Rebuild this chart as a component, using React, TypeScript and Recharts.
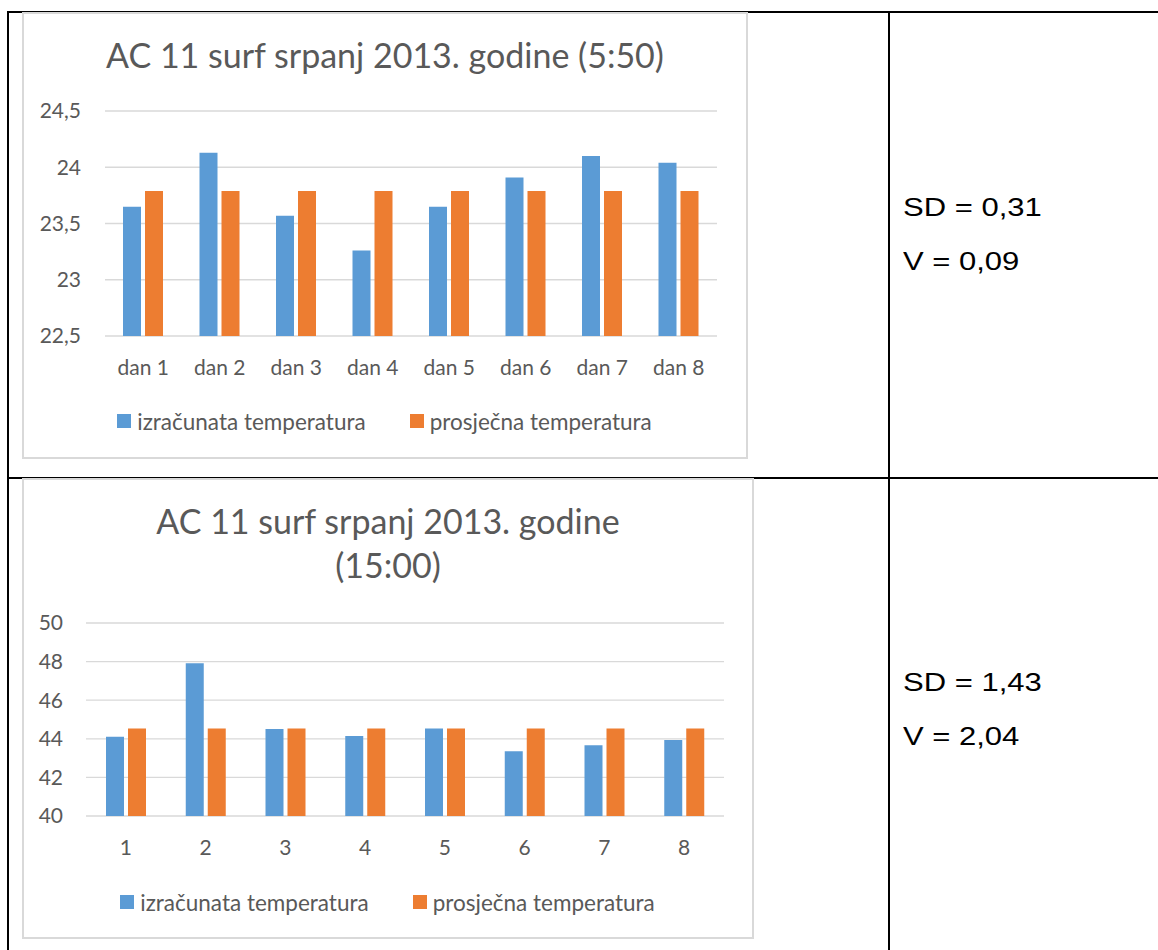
import React from 'react'
import { BarChart, Bar, XAxis, YAxis, CartesianGrid, Legend } from 'recharts'

// gornji grafikon (5:50)
const dani1 = ['dan 1', 'dan 2', 'dan 3', 'dan 4', 'dan 5', 'dan 6', 'dan 7', 'dan 8']
const izracunata1 = [23.65, 24.13, 23.57, 23.26, 23.65, 23.91, 24.1, 24.04]
const prosjecna1 = [23.79, 23.79, 23.79, 23.79, 23.79, 23.79, 23.79, 23.79]
const yTicks1 = [22.5, 23, 23.5, 24, 24.5]

// donji grafikon (15:00)
const dani2 = ['1', '2', '3', '4', '5', '6', '7', '8']
const izracunata2 = [44.11, 47.92, 44.51, 44.15, 44.53, 43.36, 43.67, 43.94]
const prosjecna2 = [44.53, 44.53, 44.53, 44.53, 44.53, 44.53, 44.53, 44.53]
const yTicks2 = [40, 42, 44, 46, 48, 50]

const seriesNames = ['izračunata temperatura', 'prosječna temperatura']
const BLUE = '#5b9bd5'
const ORANGE = '#ed7d31'
const TEXT = '#595959'
const GRID = '#d9d9d9'

const stats1 = ['SD = 0,31', 'V = 0,09']
const stats2 = ['SD = 1,43', 'V = 2,04']

const toRows = (cats: string[], a: number[], b: number[]) =>
  cats.map((name, i) => ({ name, izr: a[i], pro: b[i] }))

const fmt = (v: number) => String(v).replace('.', ',')

const makeLegend = (shift: number) => (props: any) => {
  const payload = props.payload || []
  return (
    <div
      style={{
        height: 30,
        display: 'flex',
        justifyContent: 'center',
        alignItems: 'center',
        gap: 44,
        fontFamily: 'Lato',
        fontSize: 22.5,
        color: TEXT,
        paddingLeft: shift,
      }}
    >
      {payload.map((p: any) => (
        <div key={p.value} style={{ display: 'flex', alignItems: 'center', gap: 6 }}>
          <div style={{ width: 14, height: 14, background: p.color }} />
          <span>{p.value}</span>
        </div>
      ))}
    </div>
  )
}

type ChartProps = {
  left: number
  top: number
  width: number
  height: number
  data: { name: string; izr: number; pro: number }[]
  domain: [number, number]
  ticks: number[]
  margin: { top: number; right: number; bottom: number; left: number }
  yWidth: number
  yMargin: number
  xHeight: number
  title: string[]
  titleTop: number
  legendShift: number
}

function ChartFrame(p: ChartProps) {
  return (
    <div
      style={{
        position: 'absolute',
        left: p.left,
        top: p.top,
        width: p.width,
        height: p.height,
        boxSizing: 'border-box',
        border: `2px solid ${GRID}`,
        background: '#fff',
      }}
    >
      <div style={{ position: 'absolute', left: -2, top: -2 }}>
        <BarChart
          width={p.width}
          height={p.height}
          data={p.data}
          margin={p.margin}
          barSize={18}
          barGap={4}
        >
          <CartesianGrid vertical={false} stroke={GRID} strokeWidth={1.3} />
          <XAxis
            dataKey="name"
            axisLine={false}
            tickLine={false}
            tickSize={0}
            tickMargin={24}
            height={p.xHeight}
            interval={0}
            tick={{ fill: TEXT, fontSize: 21, fontFamily: 'Lato' }}
          />
          <YAxis
            domain={p.domain}
            ticks={p.ticks}
            allowDataOverflow
            axisLine={false}
            tickLine={false}
            tickSize={0}
            tickMargin={p.yMargin}
            width={p.yWidth}
            tickFormatter={fmt}
            tick={{ fill: TEXT, fontSize: 21, fontFamily: 'Lato' }}
          />
          <Legend verticalAlign="bottom" content={makeLegend(p.legendShift)} />
          <Bar dataKey="izr" name={seriesNames[0]} fill={BLUE} isAnimationActive={false} />
          <Bar dataKey="pro" name={seriesNames[1]} fill={ORANGE} isAnimationActive={false} />
        </BarChart>
      </div>
      <div
        style={{
          position: 'absolute',
          left: -2,
          top: p.titleTop,
          width: p.width,
          textAlign: 'center',
          fontFamily: 'Lato',
          fontSize: 34,
          lineHeight: '44px',
          color: TEXT,
        }}
      >
        {p.title.map((t) => (
          <div key={t}>{t}</div>
        ))}
      </div>
    </div>
  )
}

function Stats({ top, lines }: { top: number; lines: string[] }) {
  return (
    <div
      style={{
        position: 'absolute',
        left: 903,
        top,
        fontFamily: '"Liberation Sans", Arial, sans-serif',
        fontSize: 25,
        lineHeight: '54px',
        color: '#000',
        transform: 'scaleX(1.24)',
        transformOrigin: 'left top',
        whiteSpace: 'pre',
      }}
    >
      {lines.map((l) => (
        <div key={l}>{l}</div>
      ))}
    </div>
  )
}

export default function App() {
  const line = (s: React.CSSProperties) => (
    <div style={{ position: 'absolute', background: '#000', ...s }} />
  )
  return (
    <div
      style={{
        position: 'absolute',
        left: 0,
        top: 0,
        width: 1158,
        height: 950,
        background: '#fff',
        overflow: 'hidden',
      }}
    >
      {line({ left: 7, top: 11, width: 1151, height: 2 })}
      {line({ left: 7, top: 477, width: 1151, height: 2 })}
      {line({ left: 7, top: 11, width: 2, height: 939 })}
      {line({ left: 888, top: 11, width: 2, height: 939 })}

      <ChartFrame
        left={22}
        top={12}
        width={726}
        height={447}
        data={toRows(dani1, izracunata1, prosjecna1)}
        domain={[22.5, 24.5]}
        ticks={yTicks1}
        margin={{ top: 99, right: 31, bottom: 23, left: 23 }}
        yWidth={60}
        yMargin={24}
        xHeight={70}
        title={['AC 11 surf srpanj 2013. godine (5:50)']}
        titleTop={19}
        legendShift={7}
      />
      <ChartFrame
        left={22}
        top={478}
        width={732}
        height={461}
        data={toRows(dani2, izracunata2, prosjecna2)}
        domain={[40, 50]}
        ticks={yTicks2}
        margin={{ top: 145, right: 30, bottom: 22, left: 20 }}
        yWidth={44}
        yMargin={23}
        xHeight={71}
        title={['AC 11 surf srpanj 2013. godine', '(15:00)']}
        titleTop={19}
        legendShift={9}
      />

      <Stats top={180} lines={stats1} />
      <Stats top={655} lines={stats2} />
    </div>
  )
}
